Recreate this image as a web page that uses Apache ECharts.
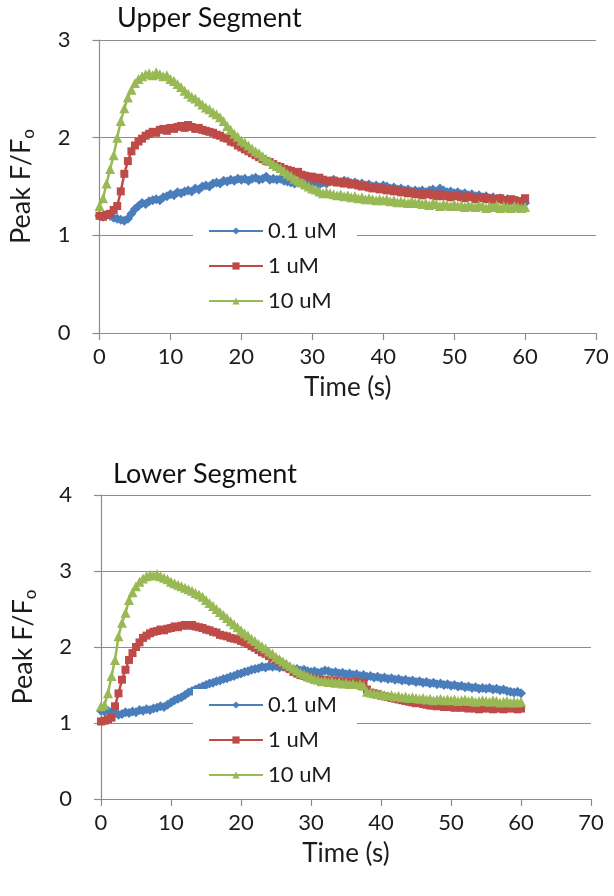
<!DOCTYPE html>
<html>
<head>
<meta charset="utf-8">
<script src="https://cdn.jsdelivr.net/npm/echarts@6/dist/echarts.min.js"></script>
<style>
html,body{margin:0;padding:0;background:#fff;}
#chart{width:614px;height:896px;}
</style>
</head>
<body>
<div id="chart"></div>
<script>
const seriesNames = ['0.1 uM', '1 uM', '10 uM'];
const xTicks = [0, 10, 20, 30, 40, 50, 60, 70];
const times = [0,0.5,1,1.5,2,2.5,3,3.5,4,4.5,5,5.5,6,6.5,7,7.5,8,8.5,9,9.5,10,10.5,11,11.5,12,12.5,13,13.5,14,14.5,15,15.5,16,16.5,17,17.5,18,18.5,19,19.5,20,20.5,21,21.5,22,22.5,23,23.5,24,24.5,25,25.5,26,26.5,27,27.5,28,28.5,29,29.5,30,30.5,31,31.5,32,32.5,33,33.5,34,34.5,35,35.5,36,36.5,37,37.5,38,38.5,39,39.5,40,40.5,41,41.5,42,42.5,43,43.5,44,44.5,45,45.5,46,46.5,47,47.5,48,48.5,49,49.5,50,50.5,51,51.5,52,52.5,53,53.5,54,54.5,55,55.5,56,56.5,57,57.5,58,58.5,59,59.5,60];

// Upper segment
const upper01 = [
1.20,1.19,1.21,1.20,1.18,1.17,1.16,1.15,1.17,1.22,
1.27,1.30,1.33,1.32,1.35,1.36,1.37,1.36,1.39,1.40,
1.42,1.41,1.44,1.43,1.45,1.46,1.45,1.48,1.47,1.50,
1.51,1.50,1.53,1.54,1.53,1.56,1.55,1.57,1.56,1.58,
1.57,1.58,1.56,1.58,1.59,1.57,1.58,1.60,1.57,1.58,
1.57,1.58,1.56,1.55,1.54,1.53,1.55,1.53,1.52,1.54,
1.53,1.55,1.52,1.54,1.53,1.55,1.57,1.55,1.54,1.56,
1.55,1.53,1.54,1.52,1.53,1.51,1.52,1.50,1.51,1.49,
1.51,1.50,1.48,1.49,1.47,1.48,1.46,1.47,1.45,1.46,
1.45,1.46,1.44,1.46,1.47,1.45,1.48,1.46,1.44,1.45,
1.43,1.44,1.42,1.43,1.41,1.42,1.40,1.41,1.39,1.40,
1.38,1.39,1.37,1.38,1.36,1.37,1.35,1.36,1.34,1.35,
1.33];
const upper1 = [
1.20,1.19,1.21,1.22,1.26,1.30,1.45,1.63,1.76,1.86,
1.92,1.96,1.99,2.02,2.04,2.06,2.05,2.08,2.09,2.07,
2.10,2.09,2.11,2.12,2.10,2.13,2.11,2.09,2.10,2.08,
2.07,2.06,2.05,2.03,2.02,2.00,1.99,1.96,1.95,1.92,
1.90,1.88,1.86,1.84,1.82,1.80,1.78,1.76,1.75,1.73,
1.71,1.70,1.68,1.67,1.66,1.64,1.65,1.62,1.61,1.60,
1.60,1.58,1.59,1.57,1.56,1.55,1.56,1.54,1.55,1.53,
1.54,1.52,1.53,1.51,1.50,1.51,1.49,1.48,1.49,1.47,
1.48,1.46,1.47,1.45,1.46,1.44,1.45,1.43,1.44,1.42,
1.43,1.41,1.42,1.43,1.41,1.40,1.42,1.40,1.41,1.39,
1.40,1.41,1.39,1.38,1.40,1.39,1.37,1.38,1.39,1.37,
1.38,1.36,1.37,1.38,1.36,1.35,1.37,1.36,1.35,1.34,
1.38];
const upper10 = [
1.30,1.38,1.53,1.68,1.82,2.00,2.17,2.30,2.41,2.49,
2.56,2.60,2.63,2.65,2.66,2.64,2.67,2.65,2.63,2.64,
2.60,2.58,2.55,2.52,2.48,2.45,2.42,2.40,2.37,2.34,
2.31,2.29,2.26,2.24,2.21,2.17,2.12,2.08,2.04,2.01,
1.97,1.95,1.92,1.89,1.86,1.84,1.81,1.78,1.76,1.73,
1.71,1.69,1.66,1.63,1.61,1.58,1.56,1.54,1.52,1.50,
1.48,1.47,1.45,1.43,1.44,1.43,1.42,1.41,1.42,1.40,
1.41,1.39,1.40,1.38,1.39,1.37,1.38,1.37,1.36,1.37,
1.36,1.37,1.35,1.36,1.34,1.35,1.34,1.33,1.35,1.33,
1.34,1.32,1.33,1.31,1.33,1.32,1.30,1.32,1.31,1.30,
1.32,1.30,1.31,1.29,1.31,1.30,1.29,1.31,1.30,1.28,
1.30,1.29,1.31,1.28,1.30,1.29,1.28,1.30,1.29,1.28,
1.29];

// Lower segment
const lower01 = [
1.16,1.15,1.16,1.14,1.13,1.11,1.12,1.14,1.13,1.15,
1.14,1.17,1.16,1.18,1.17,1.19,1.20,1.22,1.21,1.24,
1.27,1.30,1.32,1.34,1.37,1.40,1.42,1.44,1.46,1.48,
1.50,1.52,1.53,1.55,1.56,1.58,1.59,1.61,1.62,1.64,
1.65,1.67,1.68,1.70,1.71,1.72,1.74,1.73,1.75,1.74,
1.75,1.73,1.74,1.72,1.71,1.70,1.71,1.69,1.70,1.68,
1.67,1.68,1.66,1.67,1.69,1.68,1.66,1.67,1.65,1.66,
1.64,1.65,1.63,1.64,1.62,1.63,1.61,1.62,1.60,1.61,
1.59,1.60,1.58,1.59,1.57,1.58,1.56,1.57,1.55,1.56,
1.54,1.55,1.53,1.54,1.52,1.53,1.51,1.52,1.50,1.51,
1.49,1.50,1.48,1.49,1.47,1.48,1.46,1.47,1.45,1.46,
1.45,1.46,1.44,1.45,1.43,1.44,1.42,1.41,1.40,1.41,
1.39];
const lower1 = [
1.02,1.03,1.05,1.07,1.22,1.39,1.57,1.70,1.83,1.92,
2.00,2.06,2.12,2.15,2.18,2.20,2.21,2.23,2.22,2.24,
2.25,2.27,2.26,2.28,2.29,2.28,2.29,2.27,2.26,2.25,
2.23,2.22,2.20,2.19,2.16,2.15,2.14,2.12,2.11,2.10,
2.08,2.06,2.04,2.01,1.99,1.96,1.93,1.91,1.88,1.85,
1.83,1.80,1.77,1.74,1.71,1.67,1.65,1.63,1.62,1.60,
1.59,1.58,1.57,1.56,1.57,1.56,1.55,1.56,1.55,1.54,
1.55,1.54,1.53,1.54,1.52,1.53,1.44,1.40,1.39,1.38,
1.36,1.35,1.34,1.33,1.32,1.31,1.30,1.29,1.28,1.27,
1.26,1.27,1.25,1.24,1.23,1.23,1.22,1.23,1.21,1.22,
1.21,1.20,1.21,1.20,1.21,1.19,1.20,1.19,1.18,1.19,
1.20,1.19,1.18,1.19,1.20,1.18,1.19,1.20,1.19,1.18,
1.19];
const lower10 = [
1.22,1.24,1.39,1.62,1.83,2.14,2.32,2.45,2.62,2.72,
2.80,2.86,2.90,2.93,2.95,2.94,2.96,2.93,2.91,2.89,
2.86,2.84,2.82,2.80,2.78,2.76,2.74,2.71,2.69,2.66,
2.62,2.58,2.54,2.50,2.46,2.42,2.38,2.34,2.30,2.26,
2.22,2.18,2.15,2.11,2.08,2.04,2.01,1.98,1.94,1.91,
1.87,1.84,1.81,1.78,1.75,1.72,1.69,1.66,1.64,1.62,
1.60,1.58,1.57,1.55,1.56,1.54,1.55,1.53,1.54,1.52,
1.53,1.51,1.52,1.50,1.51,1.49,1.41,1.40,1.39,1.38,
1.38,1.37,1.36,1.37,1.35,1.36,1.34,1.35,1.33,1.34,
1.33,1.32,1.33,1.31,1.32,1.30,1.31,1.32,1.30,1.31,
1.30,1.31,1.29,1.30,1.31,1.29,1.30,1.28,1.29,1.30,
1.29,1.28,1.30,1.29,1.27,1.28,1.29,1.27,1.28,1.27,
1.28];

const FONT = 'Lato';
const GRID_COLOR = '#8c8c8c';
const TEXT_COLOR = '#1c1c1c';
const colors = ['#4A7EBB', '#BE4B48', '#98B954'];
const symbols = ['diamond', 'rect', 'triangle'];
const symbolSizes = [10, 8, 10];

function pairs(vals) { return times.map((t, i) => [t, vals[i]]); }

function xAxisCfg(gridIndex) {
  return {
    gridIndex, type: 'value', min: 0, max: 70, interval: 10,
    axisLine: { show: true, lineStyle: { color: GRID_COLOR, width: 1.2 } },
    axisTick: { show: true, length: 7, lineStyle: { color: GRID_COLOR, width: 1.2 } },
    splitLine: { show: false },
    axisLabel: { fontFamily: FONT, fontSize: 22, color: TEXT_COLOR, margin: 13,
      formatter: v => xTicks.indexOf(v) >= 0 ? String(v) : '' },
    name: 'Time (s)', nameLocation: 'middle', nameGap: 42,
    nameTextStyle: { fontFamily: FONT, fontSize: 26, color: TEXT_COLOR }
  };
}
function yAxisCfg(gridIndex, max) {
  return {
    gridIndex, type: 'value', min: 0, max, interval: 1,
    axisLine: { show: true, lineStyle: { color: GRID_COLOR, width: 1.2 } },
    axisTick: { show: true, length: 7, inside: false, lineStyle: { color: GRID_COLOR, width: 1.2 } },
    splitLine: { show: true, lineStyle: { color: GRID_COLOR, width: 1.2 } },
    axisLabel: { fontFamily: FONT, fontSize: 22, color: TEXT_COLOR, margin: 29 },
    name: 'Peak F/F{s|o}', nameLocation: 'middle', nameGap: 62, nameRotate: 90,
    nameTextStyle: { fontFamily: FONT, fontSize: 27, color: TEXT_COLOR,
      rich: { s: { fontFamily: FONT, fontSize: 17, color: TEXT_COLOR, verticalAlign: 'bottom', lineHeight: 32 } } }
  };
}
function lineSeries(name, idx, vals, gi) {
  return {
    name, type: 'line', xAxisIndex: gi, yAxisIndex: gi,
    data: pairs(vals), symbol: symbols[idx], symbolSize: symbolSizes[idx],
    showSymbol: true, showAllSymbol: true,
    lineStyle: { color: colors[idx], width: 2.5 },
    itemStyle: { color: colors[idx] },
    emphasis: { disabled: true }, animation: false
  };
}
function legendCfg(top) {
  return {
    data: seriesNames, orient: 'vertical', left: 193, top,
    itemWidth: 54, itemHeight: 9, itemGap: 11,
    padding: [4, 20, 4, 15], backgroundColor: '#fff',
    selectedMode: false,
    textStyle: { fontFamily: FONT, fontSize: 22, color: TEXT_COLOR, lineHeight: 24 }
  };
}

const chart = echarts.init(document.getElementById('chart'), null, { renderer: 'canvas' });
chart.setOption({
  animation: false,
  backgroundColor: '#fff',
  title: [
    { text: 'Upper Segment', left: 112, top: 0,
      textStyle: { fontFamily: FONT, fontSize: 27, fontWeight: 'normal', color: '#111' } },
    { text: 'Lower Segment', left: 108, top: 456,
      textStyle: { fontFamily: FONT, fontSize: 27, fontWeight: 'normal', color: '#111' } }
  ],
  grid: [
    { left: 99.5, right: 18, top: 40, height: 293 },
    { left: 101, right: 23, top: 495, height: 304 }
  ],
  xAxis: [xAxisCfg(0), xAxisCfg(1)],
  yAxis: [yAxisCfg(0, 3), yAxisCfg(1, 4)],
  legend: [legendCfg(215), legendCfg(689)],
  series: [
    lineSeries(seriesNames[0], 0, upper01, 0),
    lineSeries(seriesNames[1], 1, upper1, 0),
    lineSeries(seriesNames[2], 2, upper10, 0),
    lineSeries(seriesNames[0], 0, lower01, 1),
    lineSeries(seriesNames[1], 1, lower1, 1),
    lineSeries(seriesNames[2], 2, lower10, 1)
  ]
});
</script>
</body>
</html>
